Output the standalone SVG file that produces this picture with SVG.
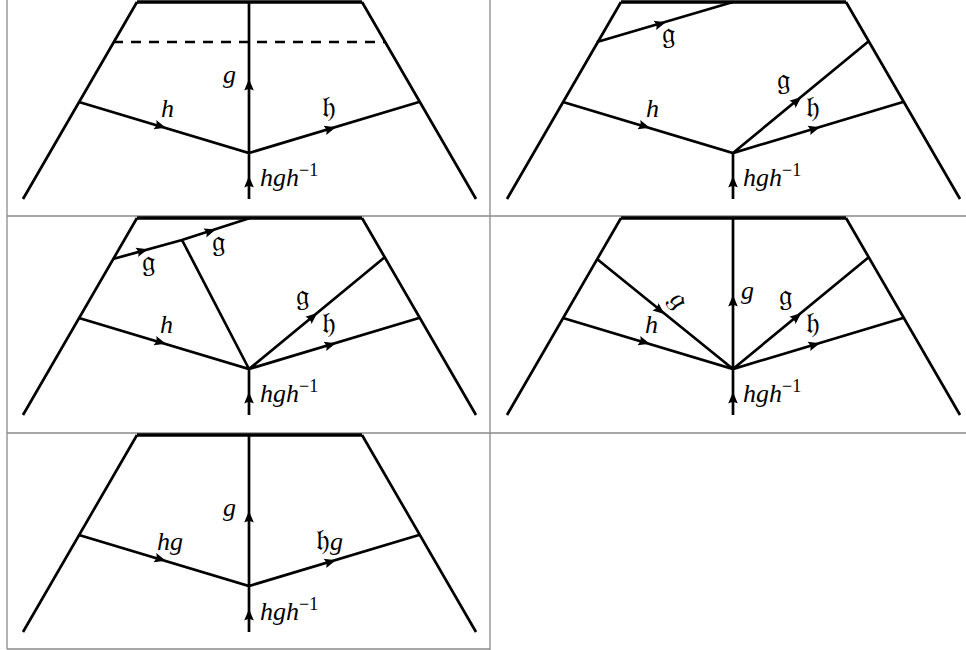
<svg xmlns="http://www.w3.org/2000/svg" xmlns:xlink="http://www.w3.org/1999/xlink" width="966" height="650" viewBox="0 0 966 650">
<style>
.grid{stroke:#8a8a8a;stroke-width:1.3;fill:none}
.ln{stroke:#000;stroke-width:2.7;fill:none;stroke-linecap:butt}
.top{stroke:#000;stroke-width:3.3;fill:none}
.dash{stroke:#000;stroke-width:2.7;fill:none;stroke-dasharray:10 8}
.m{font-family:"Liberation Serif","DejaVu Serif",serif;font-style:italic;font-size:26px;fill:#000}
.f{font-family:"DejaVu Serif","DejaVu Sans","Noto Sans",serif;font-size:30px;fill:#000}
.sup{font-style:normal;font-size:18px}
</style>
<defs>
<path id="ah" d="M3,0 L-8.5,-4.8 Q-5.5,0 -8.5,4.8 Z" fill="#000"/>
<g id="frame">
<path class="top" d="M137,2 H362"/>
<path class="ln" d="M137,2 L23,199 M362,2 L476,199"/>
</g>
</defs>
<g id="table" class="grid">
<path d="M7,0 V649 M490,0 V650 M7,216 H966 M7,433 H966 M7,649 H490"/>
</g>

<g id="panel1">
<use xlink:href="#frame"/>
<g id="p1-connectors">
<path class="ln" d="M249,2 V199 M79,102 L249,153 L419,102"/>
<path class="dash" d="M113,42 H386"/>
<use xlink:href="#ah" transform="translate(249,82) rotate(-90)"/>
<use xlink:href="#ah" transform="translate(249,179) rotate(-90)"/>
<use xlink:href="#ah" transform="translate(163,127) rotate(16.7)"/>
<use xlink:href="#ah" transform="translate(333,128) rotate(-16.7)"/>
</g>
<text class="m" x="223" y="83">g</text>
<text class="m" x="161" y="117">h</text>
<text class="f" x="322" y="117">𝔥</text>
<text class="m" x="260" y="186">hgh<tspan class="sup" dy="-10">−1</tspan></text>
</g>

<g id="panel2" transform="translate(484,0)">
<use xlink:href="#frame"/>
<g id="p2-connectors">
<path class="ln" d="M249,153 V199 M79,102 L249,153 L419,102 M113,42 L249,2 M249,153 L385,41"/>
<use xlink:href="#ah" transform="translate(179,23) rotate(-16.4)"/>
<use xlink:href="#ah" transform="translate(315,99) rotate(-39.5)"/>
<use xlink:href="#ah" transform="translate(249,179) rotate(-90)"/>
<use xlink:href="#ah" transform="translate(163,127) rotate(16.7)"/>
<use xlink:href="#ah" transform="translate(333,128) rotate(-16.7)"/>
</g>
<text class="f" x="178" y="43">𝔤</text>
<text class="f" x="293" y="89">𝔤</text>
<text class="m" x="162" y="117">h</text>
<text class="f" x="322" y="117">𝔥</text>
<text class="m" x="259" y="186">hgh<tspan class="sup" dy="-10">−1</tspan></text>
</g>

<g id="panel3" transform="translate(0,216)">
<use xlink:href="#frame"/>
<g id="p3-connectors">
<path class="ln" d="M249,153 V199 M79,102 L249,153 L419,102 M249,153 L385,41 M113,43 L182,24 L250,2 M182,24 L249,153"/>
<use xlink:href="#ah" transform="translate(145,34) rotate(-15.4)"/>
<use xlink:href="#ah" transform="translate(213,14.5) rotate(-17.2)"/>
<use xlink:href="#ah" transform="translate(315,99) rotate(-39.5)"/>
<use xlink:href="#ah" transform="translate(249,179) rotate(-90)"/>
<use xlink:href="#ah" transform="translate(163,127) rotate(16.7)"/>
<use xlink:href="#ah" transform="translate(333,128) rotate(-16.7)"/>
</g>
<text class="f" x="142" y="55">𝔤</text>
<text class="f" x="212" y="35">𝔤</text>
<text class="f" x="296" y="89">𝔤</text>
<text class="m" x="160" y="117">h</text>
<text class="f" x="322" y="117">𝔥</text>
<text class="m" x="260" y="186">hgh<tspan class="sup" dy="-10">−1</tspan></text>
</g>

<g id="panel4" transform="translate(484,216)">
<use xlink:href="#frame"/>
<g id="p4-connectors">
<path class="ln" d="M249,2 V199 M79,102 L249,153 L419,102 M249,153 L385,41 M113,43 L249,153"/>
<use xlink:href="#ah" transform="translate(249,82) rotate(-90)"/>
<use xlink:href="#ah" transform="translate(249,179) rotate(-90)"/>
<use xlink:href="#ah" transform="translate(178,96) rotate(39)"/>
<use xlink:href="#ah" transform="translate(315,99) rotate(-39.5)"/>
<use xlink:href="#ah" transform="translate(163,127) rotate(16.7)"/>
<use xlink:href="#ah" transform="translate(333,128) rotate(-16.7)"/>
</g>
<text class="m" x="257" y="83">g</text>
<text class="f" x="0" y="0" text-anchor="middle" transform="translate(193,85) rotate(60) translate(0,7)">𝔤</text>
<text class="m" x="161" y="117">h</text>
<text class="f" x="295" y="89">𝔤</text>
<text class="f" x="322" y="117">𝔥</text>
<text class="m" x="259" y="186">hgh<tspan class="sup" dy="-10">−1</tspan></text>
</g>

<g id="panel5" transform="translate(0,433)">
<use xlink:href="#frame"/>
<g id="p5-connectors">
<path class="ln" d="M249,2 V199 M79,102 L249,153 L419,102"/>
<use xlink:href="#ah" transform="translate(249,81) rotate(-90)"/>
<use xlink:href="#ah" transform="translate(249,179) rotate(-90)"/>
<use xlink:href="#ah" transform="translate(163,127) rotate(16.7)"/>
<use xlink:href="#ah" transform="translate(333,128) rotate(-16.7)"/>
</g>
<text class="m" x="223" y="83">g</text>
<text class="m" x="157" y="117">hg</text>
<text x="316" y="117"><tspan class="f">𝔥</tspan><tspan class="m">g</tspan></text>
<text class="m" x="260" y="187">hgh<tspan class="sup" dy="-10">−1</tspan></text>
</g>
</svg>
